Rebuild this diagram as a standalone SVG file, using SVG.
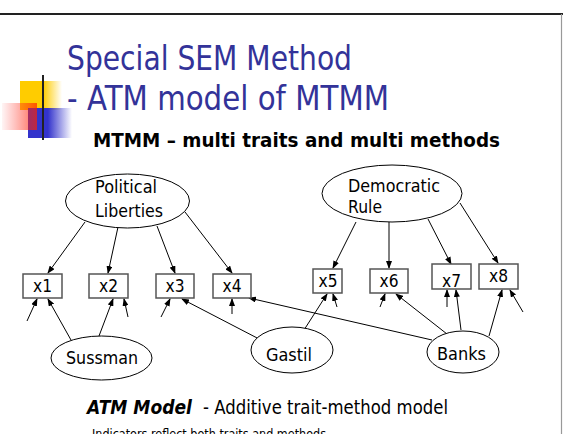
<svg xmlns="http://www.w3.org/2000/svg" width="563" height="434" viewBox="0 0 563 434">
<style>
.lbl{font-family:"DejaVu Sans","Liberation Sans",sans-serif;font-size:18px;fill:#000}
.ell{fill:#fff;stroke:#000;stroke-width:1}
.box{fill:#fff;stroke:#555;stroke-width:1.5}
.con line{stroke:#000;stroke-width:1;marker-end:url(#ah)}
</style>
<defs>
<marker id="ah" markerWidth="8" markerHeight="6" refX="7" refY="3" orient="auto" markerUnits="userSpaceOnUse">
<path d="M0,0 L8,3 L0,6 Z" fill="#000"/>
</marker>
<linearGradient id="gy" x1="0" x2="1" y1="0" y2="0">
<stop offset="0" stop-color="#FFCC00"/><stop offset="0.55" stop-color="#FFCC00"/><stop offset="1" stop-color="#FFCC00" stop-opacity="0"/>
</linearGradient>
<linearGradient id="gb" x1="0" x2="1" y1="0" y2="0">
<stop offset="0" stop-color="#3333CC"/><stop offset="0.45" stop-color="#3333CC"/><stop offset="1" stop-color="#3333CC" stop-opacity="0"/>
</linearGradient>
<linearGradient id="gr" x1="0" x2="1" y1="0" y2="0">
<stop offset="0" stop-color="#FF3333" stop-opacity="0.05"/><stop offset="1" stop-color="#FF2200" stop-opacity="0.7"/>
</linearGradient>
<linearGradient id="gl" x1="0" x2="1" y1="0" y2="0">
<stop offset="0" stop-color="#222"/><stop offset="0.65" stop-color="#333"/><stop offset="1" stop-color="#333" stop-opacity="0"/>
</linearGradient>
</defs>
<rect x="0" y="0" width="563" height="434" fill="#fff"/>
<line x1="0" y1="14" x2="563" y2="14" stroke="#222" stroke-width="2.2"/>
<line x1="561.5" y1="14" x2="561.5" y2="434" stroke="#999" stroke-width="1.2"/>
<g id="decor">
<rect x="20" y="81" width="42" height="29" fill="url(#gy)"/>
<rect x="28" y="108" width="44" height="30" fill="url(#gb)"/>
<rect x="2" y="103" width="35" height="27" fill="url(#gr)"/>
<line x1="43" y1="75" x2="43" y2="140" stroke="#222" stroke-width="2"/>
<line x1="22" y1="124.5" x2="490" y2="124.5" stroke="url(#gl)" stroke-width="2"/>
</g>
<g id="title" font-family="DejaVu Sans, Liberation Sans, sans-serif" fill="#333399" font-size="33">
<text x="67" y="70" textLength="285" lengthAdjust="spacingAndGlyphs">Special SEM Method</text>
<text x="67" y="110" textLength="322" lengthAdjust="spacingAndGlyphs">- ATM model of MTMM</text>
</g>
<text id="subtitle" x="93" y="147" font-family="DejaVu Sans, Liberation Sans, sans-serif" font-weight="bold" font-size="20" fill="#000" textLength="407" lengthAdjust="spacingAndGlyphs">MTMM – multi traits and multi methods</text>
<g id="connectors" class="con">
<line x1="85" y1="222" x2="48" y2="273"/>
<line x1="118" y1="227" x2="108" y2="273"/>
<line x1="157" y1="226" x2="175" y2="273"/>
<line x1="185" y1="212" x2="232" y2="273"/>
<line x1="356" y1="222" x2="333" y2="268"/>
<line x1="389" y1="222" x2="389" y2="268"/>
<line x1="428" y1="219" x2="451" y2="264"/>
<line x1="460" y1="203" x2="498" y2="263"/>
<line x1="27" y1="321" x2="37" y2="299"/>
<line x1="71" y1="340" x2="48" y2="299"/>
<line x1="99" y1="336" x2="113" y2="299"/>
<line x1="128" y1="317" x2="124" y2="299"/>
<line x1="161" y1="317" x2="170" y2="299"/>
<line x1="261" y1="340" x2="182" y2="299"/>
<line x1="232" y1="314" x2="232" y2="299"/>
<line x1="432" y1="340" x2="249" y2="298"/>
<line x1="304" y1="330" x2="327" y2="294"/>
<line x1="337" y1="307" x2="333" y2="294"/>
<line x1="380" y1="307" x2="385" y2="294"/>
<line x1="447" y1="334" x2="396" y2="294"/>
<line x1="447" y1="307" x2="447" y2="290"/>
<line x1="461" y1="330" x2="456" y2="290"/>
<line x1="489" y1="336" x2="502" y2="290"/>
<line x1="523" y1="312" x2="510" y2="290"/>
</g>
<g id="political-liberties">
<ellipse class="ell" cx="127.5" cy="201" rx="62" ry="27"/>
<text class="lbl" x="95" y="193" textLength="62" lengthAdjust="spacingAndGlyphs">Political</text>
<text class="lbl" x="95" y="217" textLength="68" lengthAdjust="spacingAndGlyphs">Liberties</text>
</g>
<g id="democratic-rule">
<ellipse class="ell" cx="392" cy="193.5" rx="70" ry="28.5"/>
<text class="lbl" x="348" y="192" textLength="92" lengthAdjust="spacingAndGlyphs">Democratic</text>
<text class="lbl" x="348" y="213" textLength="34" lengthAdjust="spacingAndGlyphs">Rule</text>
</g>
<g id="x1"><rect class="box" x="23" y="274" width="39" height="24"/><text class="lbl" x="42.5" y="292" text-anchor="middle" textLength="19" lengthAdjust="spacingAndGlyphs">x1</text></g>
<g id="x2"><rect class="box" x="89" y="274" width="39" height="24"/><text class="lbl" x="108.5" y="292" text-anchor="middle" textLength="19" lengthAdjust="spacingAndGlyphs">x2</text></g>
<g id="x3"><rect class="box" x="156" y="274" width="38" height="24"/><text class="lbl" x="175" y="292" text-anchor="middle" textLength="19" lengthAdjust="spacingAndGlyphs">x3</text></g>
<g id="x4"><rect class="box" x="213" y="274" width="38" height="24"/><text class="lbl" x="232" y="292" text-anchor="middle" textLength="19" lengthAdjust="spacingAndGlyphs">x4</text></g>
<g id="x5"><rect class="box" x="313" y="269" width="29" height="24"/><text class="lbl" x="328" y="287" text-anchor="middle" textLength="19" lengthAdjust="spacingAndGlyphs">x5</text></g>
<g id="x6"><rect class="box" x="370" y="269" width="38" height="24"/><text class="lbl" x="389" y="287" text-anchor="middle" textLength="19" lengthAdjust="spacingAndGlyphs">x6</text></g>
<g id="x7"><rect class="box" x="432" y="264" width="39" height="25"/><text class="lbl" x="451.5" y="287" text-anchor="middle" textLength="19" lengthAdjust="spacingAndGlyphs">x7</text></g>
<g id="x8"><rect class="box" x="479" y="264" width="39" height="25"/><text class="lbl" x="498.5" y="282" text-anchor="middle" textLength="19" lengthAdjust="spacingAndGlyphs">x8</text></g>
<g id="sussman">
<ellipse class="ell" cx="101.5" cy="358" rx="50.5" ry="22"/>
<text class="lbl" x="66" y="364" textLength="72" lengthAdjust="spacingAndGlyphs">Sussman</text>
</g>
<g id="gastil">
<ellipse class="ell" cx="292" cy="350" rx="41" ry="23"/>
<text class="lbl" x="266" y="361" textLength="46" lengthAdjust="spacingAndGlyphs">Gastil</text>
</g>
<g id="banks">
<ellipse class="ell" cx="463" cy="352" rx="36" ry="21"/>
<text class="lbl" x="437" y="360" textLength="49" lengthAdjust="spacingAndGlyphs">Banks</text>
</g>
<g id="caption" font-family="DejaVu Sans, Liberation Sans, sans-serif" fill="#000">
<text x="87" y="414" font-size="19" font-weight="bold" font-style="italic" textLength="105" lengthAdjust="spacingAndGlyphs">ATM Model</text>
<text x="203" y="414" font-size="19" textLength="245" lengthAdjust="spacingAndGlyphs">- Additive trait-method model</text>
<text x="92" y="438" font-size="12" textLength="234" lengthAdjust="spacingAndGlyphs">Indicators reflect both traits and methods</text>
</g>
</svg>
